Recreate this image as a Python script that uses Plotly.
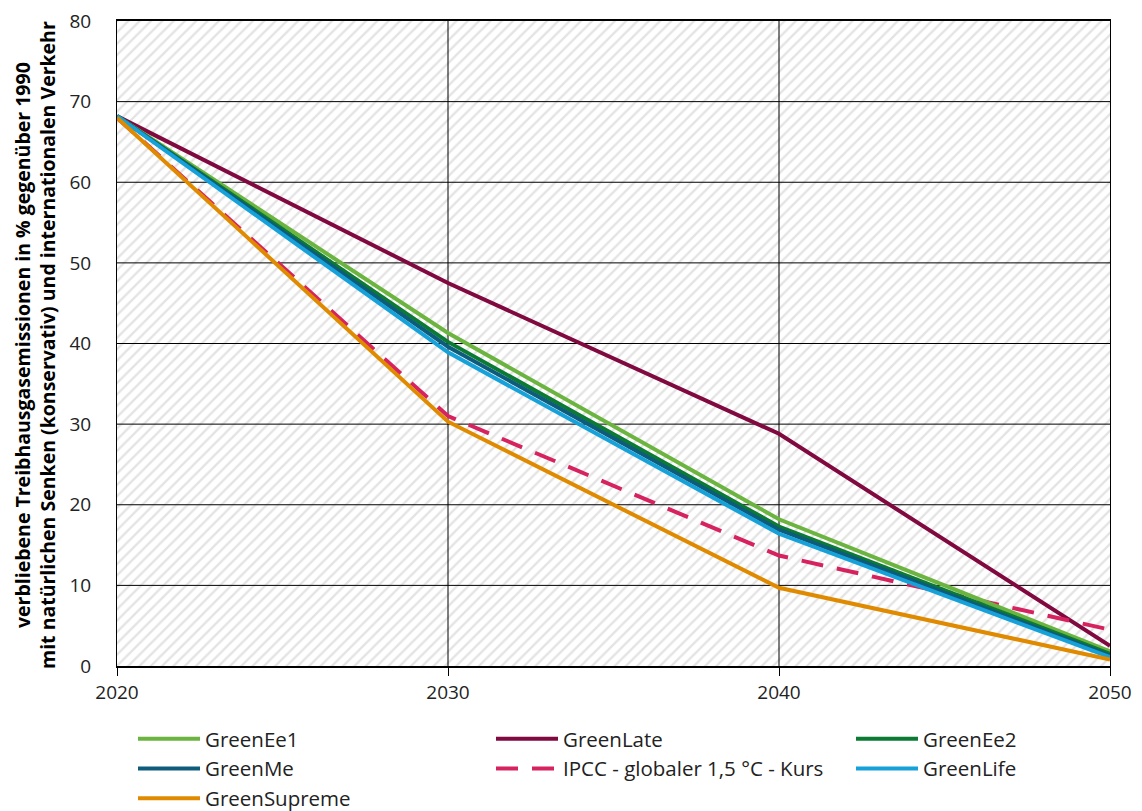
import plotly.graph_objects as go

years = [2020, 2030, 2040, 2050]
green_ee1 = [68.2, 41.3, 18.2, 1.8]
green_late = [68.2, 47.5, 28.8, 2.5]
green_ee2 = [68.2, 40.2, 17.3, 1.5]
green_me = [68.2, 39.6, 16.9, 1.3]
ipcc = [68.0, 31.0, 13.7, 4.5]
green_life = [68.2, 38.9, 16.4, 1.1]
green_supreme = [68.0, 30.3, 9.7, 0.8]

x_ticks = [2020, 2030, 2040, 2050]
y_ticks = list(range(0, 81, 10))

y_title = ("<b>verbliebene Treibhausgasemissionen in % gegenüber 1990<br>"
           "mit natürlichen Senken (konservativ) und internationalen Verkehr</b>")

series = [
    # name, values, color, dash, legend column, rank
    ("GreenLate", green_late, "#80093f", "solid", "legend2", 1),
    ("IPCC - globaler 1,5 °C - Kurs", ipcc, "#d6225f", "22px,14px", "legend2", 2),
    ("GreenEe1", green_ee1, "#6bb43f", "solid", "legend", 1),
    ("GreenEe2", green_ee2, "#0b7a32", "solid", "legend3", 1),
    ("GreenMe", green_me, "#0d5c7c", "solid", "legend", 2),
    ("GreenLife", green_life, "#16a1d9", "solid", "legend3", 2),
    ("GreenSupreme", green_supreme, "#e08a00", "solid", "legend", 3),
]

x0, x1 = x_ticks[0], x_ticks[-1]
y0, y1 = y_ticks[0], y_ticks[-1]

fig = go.Figure()

# hatched plot background
fig.add_trace(go.Scatter(
    x=[x0, x1, x1, x0, x0], y=[y0, y0, y1, y1, y0],
    fill="toself", mode="none", fillcolor="rgba(0,0,0,0)",
    fillpattern=dict(shape="/", fgcolor="#c8c8c8", bgcolor="rgba(255,255,255,0)",
                     size=8, solidity=0.3),
    showlegend=False, hoverinfo="skip",
))

# gridlines drawn above the hatching
gx, gy = [], []
for v in y_ticks[1:-1]:
    gx += [x0, x1, None]
    gy += [v, v, None]
for v in x_ticks[1:-1]:
    gx += [v, v, None]
    gy += [y0, y1, None]
fig.add_trace(go.Scatter(
    x=gx, y=gy, mode="lines", line=dict(color="black", width=1),
    showlegend=False, hoverinfo="skip",
))

for name, vals, color, dash, leg, rank in series:
    fig.add_trace(go.Scatter(
        x=years, y=vals, mode="lines", name=name,
        line=dict(color=color, width=4, dash=dash),
        legend=leg, legendrank=rank, legendgroup=name,
    ))

font = "'Open Sans', sans-serif"
W, H = 1134, 803  # page body adds an 8px offset
L, R, T, B = 109, 32, 13, 145


def leg(xpx):
    return dict(
        orientation="v", xref="container", yref="container",
        x=(xpx - 8 - 4) / W, xanchor="left", y=1 - (732 - 8 - 13) / H, yanchor="top",
        font=dict(family=font, size=20.5, color="#222"),
        itemwidth=62, tracegroupgap=0, bgcolor="rgba(0,0,0,0)",
    )


fig.update_layout(
    width=W, height=H,
    margin=dict(l=L, r=R, t=T, b=B, autoexpand=False),
    paper_bgcolor="white", plot_bgcolor="white",
    font=dict(family=font, size=19, color="#222"),
    showlegend=True,
    legend=leg(137), legend2=leg(495), legend3=leg(855),
)

fig.add_annotation(
    text=y_title, textangle=-90, showarrow=False,
    xref="paper", yref="paper",
    x=((35 - 8) - L) / (W - L - R), xanchor="center",
    y=1 - ((345 - 8) - T) / (H - T - B), yanchor="middle",
    font=dict(family=font, size=19.5, color="black"),
)

fig.update_xaxes(
    range=[x0, x1], tickvals=x_ticks,
    showgrid=False,
    showline=True, linecolor="black", linewidth=2, mirror=True,
    ticks="outside", ticklen=8, tickcolor="black", tickwidth=1,
    zeroline=False, tickfont=dict(size=19), automargin=False, ticklabelstandoff=0,
    ticklabeloverflow="allow",
)
fig.update_yaxes(
    range=[y0, y1], tickvals=y_ticks,
    showgrid=False,
    showline=True, linecolor="black", linewidth=1, mirror=True,
    ticks="", zeroline=False, tickfont=dict(size=19), ticklabelstandoff=21,
    automargin=False, ticklabeloverflow="allow",
)

fig.write_html("out.html")
